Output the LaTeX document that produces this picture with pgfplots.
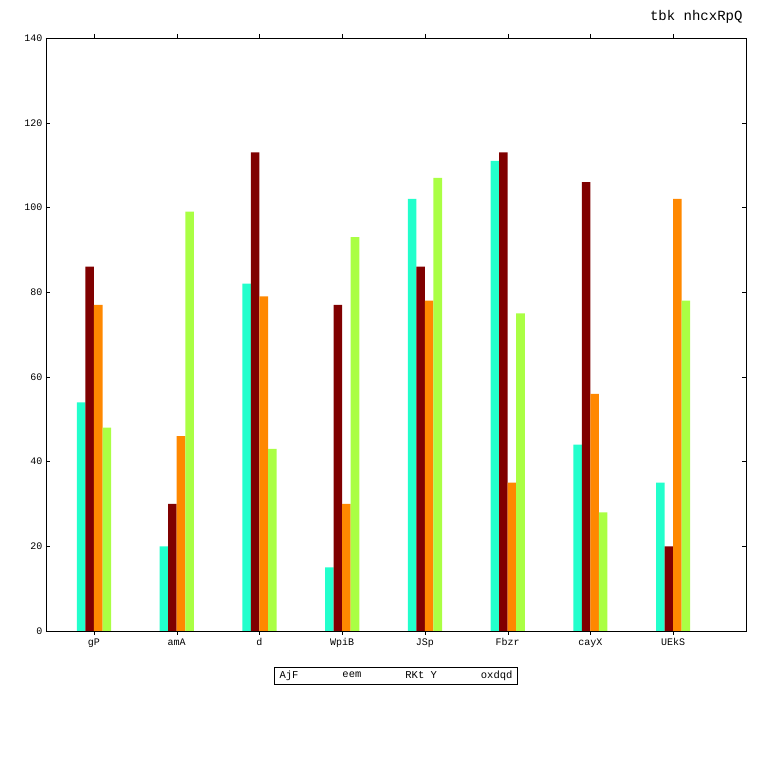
\documentclass[border=0pt]{standalone}
\usepackage{pgfplots}
\pgfplotsset{compat=1.18}
\usepackage{fontspec}
\setmainfont{Liberation Mono}
\definecolor{c1}{HTML}{22FFCC}
\definecolor{c2}{HTML}{800000}
\definecolor{c3}{HTML}{FF8800}
\definecolor{c4}{HTML}{AAFF44}
\begin{document}
\begin{tikzpicture}
\path (-46pt,-129pt) rectangle (714pt,631pt);
\begin{axis}[at={(0,0)},anchor=south west,
scale only axis, width=700pt, height=593pt,
xmin=-0.58, xmax=7.88, ymin=0, ymax=140,
ytick={0,20,...,140},
xtick={0,...,7}, xticklabels={gP,amA,d,WpiB,JSp,Fbzr,cayX,UEkS},
tick align=inside, tick style={black,thin}, major tick length=4pt,
ybar=0pt, bar width=0.103,
tick label style={font=\fontsize{10}{12}\selectfont},
/pgf/number format/assume math mode=true,
legend style={at={(0.5,-0.06)},anchor=north,legend columns=4,draw=black,
 font=\fontsize{10.5}{12}\selectfont, /tikz/every even column/.append style={column sep=40pt}},
legend image code/.code={},
]
\addplot[fill=c1,draw=none] coordinates {(0,54)(1,20)(2,82)(3,15)(4,102)(5,111)(6,44)(7,35)};
\addplot[fill=c2,draw=none] coordinates {(0,86)(1,30)(2,113)(3,77)(4,86)(5,113)(6,106)(7,20)};
\addplot[fill=c3,draw=none] coordinates {(0,77)(1,46)(2,79)(3,30)(4,78)(5,35)(6,56)(7,102)};
\addplot[fill=c4,draw=none] coordinates {(0,48)(1,99)(2,43)(3,93)(4,107)(5,75)(6,28)(7,78)};
\legend{AjF,eem,RKt Y,oxdqd}
\end{axis}
\node[anchor=base east,font=\fontsize{14}{16}\selectfont] at (700pt,610pt) {tbk nhcxRpQ};
\end{tikzpicture}
\end{document}
